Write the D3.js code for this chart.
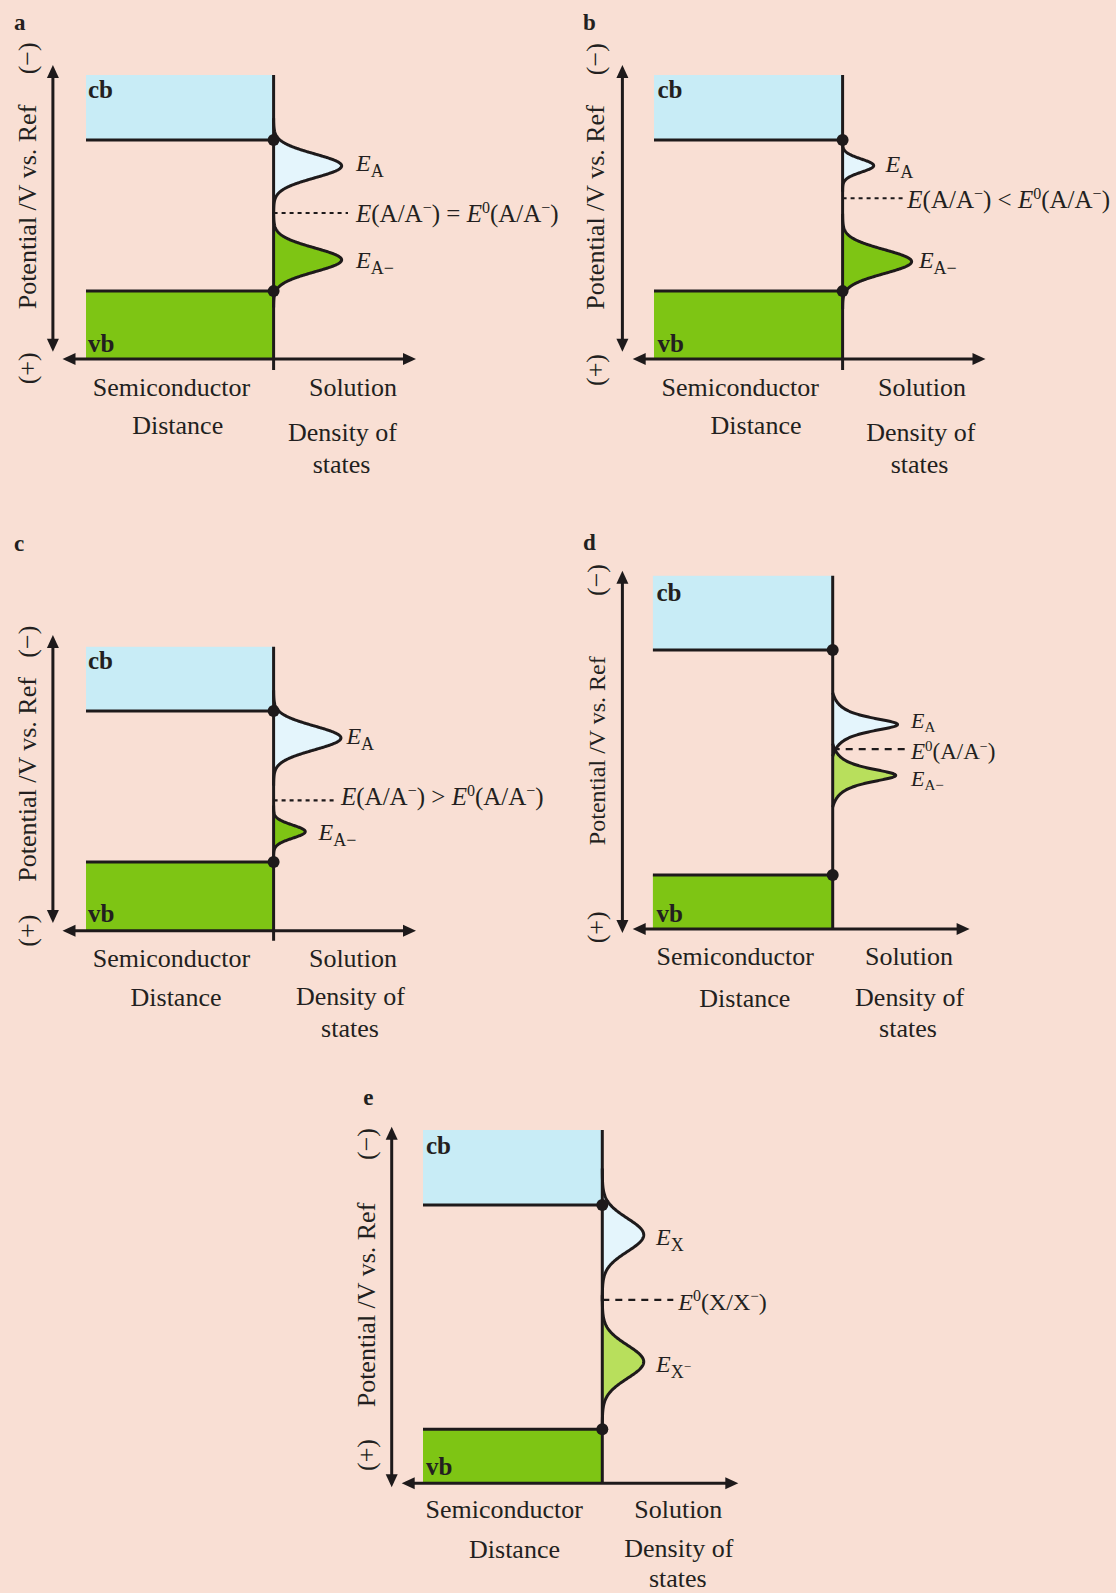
<!DOCTYPE html>
<html>
<head>
<meta charset="utf-8">
<script src="https://cdn.jsdelivr.net/npm/d3@7"></script>
<style>
  html, body { margin: 0; padding: 0; background: #f9dfd4; }
  svg { display: block; }
  text { font-family: "Liberation Serif", "Times New Roman", serif; fill: #231f20; }
</style>
</head>
<body>
<svg id="chart" width="1116" height="1593"></svg>
<script>
// ---------------- data ----------------
// Potential is on a 0–10 scale per panel: 0 = top of the conduction-band box, 10 = distance axis.
const panelIds   = ["a", "b", "c", "d", "e"];
const species    = ["A", "A", "A", "A", "X"];
const relation   = ["=", "<", ">", null, null];   // E vs E0 (null: only E0 is labelled)
const cbEdge     = [2.29, 2.29, 2.26, 2.10, 2.12];
const vbEdge     = [7.61, 7.61, 7.58, 8.47, 8.47];
const redoxLevel = [4.86, 4.34, 5.41, 4.91, 4.81];

// Density-of-states peaks: oxidized (E_A / E_X) and reduced (E_A− / E_X−)
const oxCenter   = [3.20, 3.19, 3.21, 4.21, 2.97];
const oxHeight   = [0.486, 0.222, 0.481, 0.463, 0.296];
const oxWidth    = [0.42, 0.23, 0.42, 0.25, 0.47];
const redCenter  = [6.51, 6.57, 6.51, 5.65, 6.56];
const redHeight  = [0.486, 0.493, 0.226, 0.450, 0.296];
const redWidth   = [0.42, 0.42, 0.23, 0.25, 0.47];
const peakShape  = ["gauss", "gauss", "gauss", "lorentz", "gauss"];

const axisTexts = {
  potential: "Potential /V vs. Ref",
  minus: "(\u2212)", plus: "(+)",
  semi: "Semiconductor", sol: "Solution", dist: "Distance",
  dos: "Density of", states: "states"
};

// ---------------- layout & style ----------------
const colors = {
  bg: "#f9dfd4", cb: "#c8ecf6", vb: "#7ec514", ink: "#1e1a1b",
  oxFill: "#e4f5fc", redDark: "#7ec514", redLight: "#b8df5c"
};

const frames = {
  a: { iface: 273.6, boxLeft: 86, top: 75, base: 359, arrowX: 52.9, arrowTop: 65, arrowBot: 351.7,
       hLeft: 62.5, hRight: 416, tickEnd: 370, letter: [14, 30], yLab: [35.5, 207], yLabSize: 26,
       minusY: 58.3, plusY: 368.3, cb: [88, 97.7], vb: [88, 351.7],
       semi: [171.4, 396], sol: [353, 396], dist: [177.7, 434], dos: [342.5, 440.7], states: [341.6, 472.7],
       dashEnd: 348, dash: "4,4", eqX: 356, eqDy: 8.5, eqSize: 25, supRise: 9,
       oxX: 356, oxDy: 5, redX: 356, redDy: 8, lab: [24, 18, 6], redFill: "redDark" },
  b: { iface: 842.6, boxLeft: 654, top: 75, base: 359, arrowX: 622.4, arrowTop: 65, arrowBot: 351.7,
       hLeft: 632.7, hRight: 985.5, tickEnd: 370, letter: [583, 30], yLab: [604.3, 207.5], yLabSize: 26,
       minusY: 59.2, plusY: 370, cb: [657.5, 98.3], vb: [657.5, 351.7],
       semi: [740.3, 396], sol: [922, 396], dist: [756, 434], dos: [920.8, 440.7], states: [919.6, 473.3],
       dashEnd: 904, dash: "4,4", eqX: 907.3, eqDy: 10, eqSize: 25, supRise: 9,
       oxX: 885.5, oxDy: 6, redX: 918.9, redDy: 6.6, lab: [24, 18, 6], redFill: "redDark" },
  c: { iface: 273.6, boxLeft: 86, top: 646.8, base: 930.7, arrowX: 52.9, arrowTop: 634.9, arrowBot: 922.9,
       hLeft: 62.5, hRight: 416, tickEnd: 940.8, letter: [14, 551], yLab: [35.5, 779.4], yLabSize: 26,
       minusY: 641.7, plusY: 930.7, cb: [88, 668.7], vb: [88, 922.2],
       semi: [171.4, 966.8], sol: [353, 966.8], dist: [176, 1005.7], dos: [350.5, 1005], states: [350, 1037],
       dashEnd: 334, dash: "4,4", eqX: 341, eqDy: 4.5, eqSize: 25, supRise: 9,
       oxX: 346.4, oxDy: 6, redX: 318.6, redDy: 8, lab: [24, 18, 6], redFill: "redDark" },
  d: { iface: 832.7, boxLeft: 652.9, top: 575.8, base: 929, arrowX: 622.4, arrowTop: 570.7, arrowBot: 933,
       hLeft: 632.7, hRight: 969.6, tickEnd: null, letter: [583, 550.4], yLab: [605.4, 750.7], yLabSize: 24,
       minusY: 580, plusY: 927.3, cb: [656.5, 601], vb: [656.5, 921.5],
       semi: [735.2, 964.5], sol: [909, 964.5], dist: [744.8, 1007.4], dos: [909.6, 1005.7], states: [908, 1037],
       dashEnd: 909.3, dash: "7,6", eqX: 911, eqDy: 9.5, eqSize: 23, supRise: 8,
       oxX: 911, oxDy: 3.8, redX: 911, redDy: 10.5, lab: [22, 15, 4], redFill: "redLight" },
  e: { iface: 602.3, boxLeft: 423, top: 1130, base: 1483.3, arrowX: 391.7, arrowTop: 1126.7, arrowBot: 1487.3,
       hLeft: 401.7, hRight: 738.3, tickEnd: null, letter: [363.3, 1105], yLab: [375, 1305], yLabSize: 26,
       minusY: 1144, plusY: 1455, cb: [426, 1154], vb: [426, 1475],
       semi: [504.2, 1518.3], sol: [678.3, 1518.3], dist: [514.5, 1558.3], dos: [678.8, 1557.3], states: [677.8, 1587],
       dashEnd: 673.3, dash: "7,6", eqX: 678.3, eqDy: 10, eqSize: 24, supRise: 9,
       oxX: 656, oxDy: 10, redX: 656, redDy: 10, lab: [24, 18, 6], redFill: "redLight" }
};

const DOS_RANGE = 140;   // pixel length of a unit density of states
const LINE_W = 3;

const svg = d3.select("#chart");
svg.append("rect").attr("width", 1116).attr("height", 1593).attr("fill", colors.bg);

// Text made of styled runs (italic symbols, sub/superscripts)
function rich(g, x, y, runs, size, anchor) {
  const t = g.append("text").attr("x", x).attr("y", y).style("font-size", size + "px");
  if (anchor) t.attr("text-anchor", anchor);
  let rise = 0;
  runs.forEach(r => {
    const rr = r.rise || 0;
    const sp = t.append("tspan").text(r.t).attr("dy", rise - rr);
    if (r.size) sp.style("font-size", r.size + "px");
    if (r.it) sp.style("font-style", "italic");
    rise = rr;
  });
  return t;
}

// Peak profile (0..1) at offset t from the centre
function profile(shape, t, w) {
  if (shape === "lorentz") {
    const T = 3.6, L = u => 1 / (1 + u * u);
    return Math.max(0, (L(t / w) - L(T)) / (1 - L(T)));
  }
  return Math.exp(-(t * t) / (2 * w * w));
}

function arrowHead(g, tipX, tipY, dir) {
  const len = 13, half = 6;
  let pts;
  if (dir === "up")    pts = [[tipX, tipY], [tipX - half, tipY + len], [tipX + half, tipY + len]];
  if (dir === "down")  pts = [[tipX, tipY], [tipX - half, tipY - len], [tipX + half, tipY - len]];
  if (dir === "left")  pts = [[tipX, tipY], [tipX + len, tipY - half], [tipX + len, tipY + half]];
  if (dir === "right") pts = [[tipX, tipY], [tipX - len, tipY - half], [tipX - len, tipY + half]];
  g.append("path").attr("d", "M" + pts.map(p => p.join(",")).join("L") + "Z").attr("fill", colors.ink);
}

panelIds.forEach((id, i) => {
  const f = frames[id];
  const g = svg.append("g").attr("class", "panel panel-" + id);
  const y = d3.scaleLinear().domain([0, 10]).range([f.top, f.base]);
  const x = d3.scaleLinear().domain([0, 1]).range([f.iface, f.iface + DOS_RANGE]);

  // conduction and valence band boxes
  g.append("rect").attr("x", f.boxLeft).attr("y", y(0))
    .attr("width", f.iface - f.boxLeft).attr("height", y(cbEdge[i]) - y(0)).attr("fill", colors.cb);
  g.append("rect").attr("x", f.boxLeft).attr("y", y(vbEdge[i]))
    .attr("width", f.iface - f.boxLeft).attr("height", y(10) - y(vbEdge[i])).attr("fill", colors.vb);
  [cbEdge[i], vbEdge[i]].forEach(v => {
    g.append("line").attr("x1", f.boxLeft).attr("x2", f.iface).attr("y1", y(v)).attr("y2", y(v))
      .attr("stroke", colors.ink).attr("stroke-width", LINE_W);
  });

  // density-of-states peaks
  const peaks = [
    { c: oxCenter[i], h: oxHeight[i], w: oxWidth[i], fill: colors.oxFill },
    { c: redCenter[i], h: redHeight[i], w: redWidth[i], fill: colors[f.redFill] }
  ];
  const span = peakShape[i] === "lorentz" ? 3.6 : 4;
  peaks.forEach(p => {
    const n = 240;
    const pts = d3.range(n + 1).map(k => {
      const t = -span * p.w + (2 * span * p.w) * k / n;
      return { v: p.c + t, d: p.h * profile(peakShape[i], t, p.w) };
    });
    g.append("path").datum(pts)
      .attr("d", d3.area().y(d => y(d.v)).x0(x(0)).x1(d => x(d.d)))
      .attr("fill", p.fill);
    p.pts = pts;
  });

  // interface line
  g.append("line").attr("x1", f.iface).attr("x2", f.iface)
    .attr("y1", y(0)).attr("y2", f.tickEnd != null ? f.tickEnd : y(10))
    .attr("stroke", colors.ink).attr("stroke-width", LINE_W);

  peaks.forEach(p => {
    g.append("path").datum(p.pts)
      .attr("d", d3.line().y(d => y(d.v)).x(d => x(d.d)))
      .attr("fill", "none").attr("stroke", colors.ink).attr("stroke-width", LINE_W)
      .attr("stroke-linejoin", "round");
  });

  // redox level
  g.append("line").attr("x1", f.iface).attr("x2", f.dashEnd)
    .attr("y1", y(redoxLevel[i])).attr("y2", y(redoxLevel[i]))
    .attr("stroke", colors.ink).attr("stroke-width", 2.2).attr("stroke-dasharray", f.dash);

  // band-edge dots
  [cbEdge[i], vbEdge[i]].forEach(v => {
    g.append("circle").attr("cx", f.iface).attr("cy", y(v)).attr("r", 6).attr("fill", colors.ink);
  });

  // axes: potential (vertical) and distance (horizontal)
  g.append("line").attr("x1", f.arrowX).attr("x2", f.arrowX)
    .attr("y1", f.arrowTop + 8).attr("y2", f.arrowBot - 8)
    .attr("stroke", colors.ink).attr("stroke-width", LINE_W);
  arrowHead(g, f.arrowX, f.arrowTop, "up");
  arrowHead(g, f.arrowX, f.arrowBot, "down");
  g.append("line").attr("x1", f.hLeft + 8).attr("x2", f.hRight - 8)
    .attr("y1", y(10)).attr("y2", y(10))
    .attr("stroke", colors.ink).attr("stroke-width", LINE_W);
  arrowHead(g, f.hLeft, y(10), "left");
  arrowHead(g, f.hRight, y(10), "right");

  // labels
  g.append("text").attr("x", f.letter[0]).attr("y", f.letter[1])
    .style("font-size", "23px").style("font-weight", "bold").text(id);
  g.append("text").attr("x", f.cb[0]).attr("y", f.cb[1])
    .style("font-size", "25px").style("font-weight", "bold").text("cb");
  g.append("text").attr("x", f.vb[0]).attr("y", f.vb[1])
    .style("font-size", "25px").style("font-weight", "bold").text("vb");

  const rot = (px, py, txt, size) => g.append("text")
    .attr("transform", `translate(${px},${py}) rotate(-90)`)
    .attr("text-anchor", "middle").style("font-size", size + "px").text(txt);
  rot(f.yLab[0], f.yLab[1], axisTexts.potential, f.yLabSize);
  rot(f.yLab[0], f.minusY, axisTexts.minus, 26);
  rot(f.yLab[0], f.plusY, axisTexts.plus, 26);

  const mid = (p, txt) => g.append("text").attr("x", p[0]).attr("y", p[1])
    .attr("text-anchor", "middle").style("font-size", "26px").text(txt);
  mid(f.semi, axisTexts.semi);
  mid(f.sol, axisTexts.sol);
  mid(f.dist, axisTexts.dist);
  mid(f.dos, axisTexts.dos);
  mid(f.states, axisTexts.states);

  // peak labels
  const sp = species[i];
  const [ls, lsub, ldrop] = f.lab;
  rich(g, f.oxX, y(oxCenter[i]) + f.oxDy,
    [{ t: "E", it: true }, { t: sp, size: lsub, rise: -ldrop }], ls);
  const redRuns = sp === "X"
    ? [{ t: "E", it: true }, { t: "X", size: lsub, rise: -ldrop }, { t: "\u2212", size: 13, rise: 1 }]
    : [{ t: "E", it: true }, { t: sp + "\u2212", size: lsub, rise: -ldrop }];
  rich(g, f.redX, y(redCenter[i]) + f.redDy, redRuns, ls);

  // redox potential label
  const s = f.eqSize, ss = Math.round(s * 0.62), sr = f.supRise;
  const couple = [{ t: "(" + sp + "/" + sp }, { t: "\u2212", size: ss, rise: sr }, { t: ")" }];
  let runs;
  if (relation[i]) {
    runs = [{ t: "E", it: true }, ...couple, { t: " " + relation[i] + " " },
            { t: "E", it: true }, { t: "0", size: ss, rise: sr }, ...couple];
  } else {
    runs = [{ t: "E", it: true }, { t: "0", size: ss + 1, rise: sr }, ...couple];
  }
  rich(g, f.eqX, y(redoxLevel[i]) + f.eqDy, runs, s);
});
</script>
</body>
</html>
